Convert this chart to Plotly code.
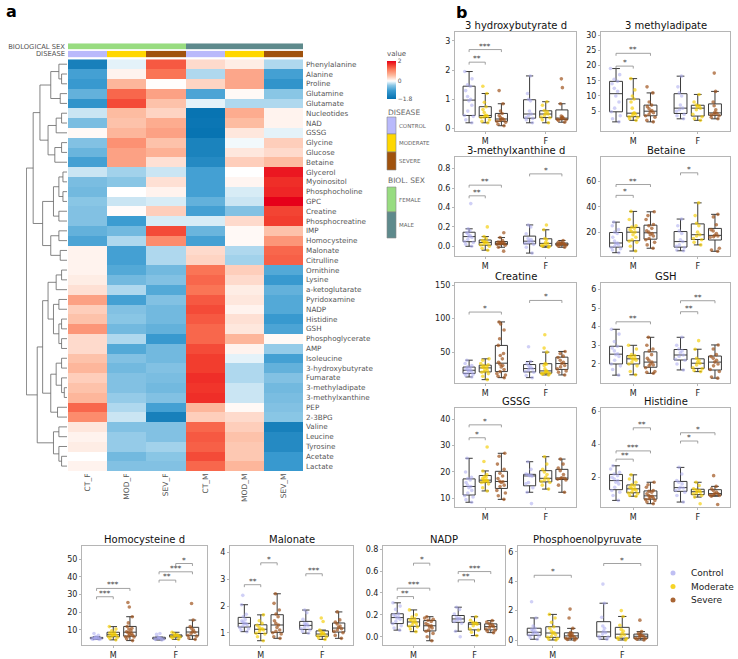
import plotly.graph_objects as go

W, H = 738, 659
FONT = "DejaVu Sans"

# ---------------- heatmap data ----------------
METABOLITES = ["Phenylalanine", "Alanine", "Proline", "Glutamine", "Glutamate", "Nucleotides", "NAD", "GSSG",
               "Glycine", "Glucose", "Betaine", "Glycerol", "Myoinositol", "Phosphocholine", "GPC", "Creatine",
               "Phosphocreatine", "IMP", "Homocysteine", "Malonate", "Citrulline", "Ornithine", "Lysine",
               "a-ketoglutarate", "Pyridoxamine", "NADP", "Histidine", "GSH", "Phosphoglycerate", "AMP",
               "Isoleucine", "3-hydroxybutyrate", "Fumarate", "3-methyladipate", "3-methylxanthine", "PEP",
               "2-3BPG", "Valine", "Leucine", "Tyrosine", "Acetate", "Lactate"]
COLUMNS = ["CT_F", "MOD_F", "SEV_F", "CT_M", "MOD_M", "SEV_M"]
COL_SEX = [0, 0, 0, 1, 1, 1]          # 0 female, 1 male
COL_DISEASE = [0, 1, 2, 0, 1, 2]      # control, moderate, severe

CT_F = [-1.5, -0.9, -1.0, -0.7, -1.1, -0.2, -0.55, 0.05, -0.5, -0.65, -0.9, -0.2, -0.55, -0.6, -0.45, -0.5, -0.5,
        -0.7, -0.85, 0.1, 0.1, 0.1, 0.15, 0.25, 0.8, 0.4, 0.5, 0.9, 0.3, 0.3, 0.5, 0.6, 0.4, 0.5, 0.6, 1.3, 1.0,
        0.2, 0.1, 0.15, 0.0, 0.1]
MOD_F = [-0.1, 0.1, 0.6, 1.3, 1.5, 0.55, 0.5, 0.6, 0.95, 0.8, 0.8, -0.35, -0.45, 0.0, -0.2, 0.03, -0.95, -0.6,
         -0.3, -0.9, -0.9, -0.8, -0.6, -0.3, -0.9, -0.5, -0.45, -0.6, -0.3, -0.8, -0.5, -0.6, -0.5, -0.5, -0.4,
         -0.3, -0.2, -0.5, -0.4, -0.4, -0.6, -0.5]
SEV_F = [1.4, 1.2, 0.02, 0.8, 0.5, 0.35, 0.7, 0.8, 0.5, 0.65, 0.25, -0.2, 0.25, 0.1, -0.15, 0.4, -0.15, 1.5, 1.0,
         -0.3, -0.3, -0.6, -0.5, -0.8, -0.5, -0.6, -0.6, -0.7, -1.0, -0.6, -0.6, -0.5, -0.55, -0.6, -0.5, -0.9,
         -1.5, -0.5, -0.5, -0.35, -0.45, -0.5]
CT_M = [0.3, -0.3, 0.35, -0.85, -0.1, -1.75, -1.7, -1.75, -1.45, -1.45, -1.3, -0.9, -0.9, -0.9, -0.7, -0.9, -0.15,
        -0.65, -0.9, 0.3, 0.35, 1.2, 1.3, 1.2, 1.4, 1.5, 1.4, 1.3, 1.3, 1.5, 1.6, 1.6, 1.7, 1.65, 1.7, 0.6, 0.4,
        1.3, 1.4, 1.35, 1.5, 1.3]
MOD_M = [0.15, 0.75, 0.75, 0.05, -0.3, 0.7, 0.55, 0.2, -0.05, 0.2, 0.4, 0.0, 0.08, -0.15, -0.2, -0.5, 0.3, 0.05,
         0.05, -0.3, -0.35, 0.4, 0.3, 0.15, 0.2, 0.1, 0.25, 0.2, 0.6, 0.1, -0.1, -0.3, -0.3, -0.2, -0.2, 0.05, 0.3,
         0.4, 0.5, 0.45, 0.45, 0.6]
SEV_M = [-0.3, -0.9, -1.1, -0.45, -0.3, 0.1, 0.1, -0.1, 0.4, 0.3, 0.55, 1.85, 1.7, 1.75, 2.0, 1.55, 1.6, 0.5, 0.9,
         1.3, 1.35, -0.8, -1.0, -0.7, -0.8, -0.8, -1.0, -0.85, 0.05, -0.4, -0.9, -0.7, -0.5, -0.6, -0.55, -0.5,
         -0.45, -1.5, -1.3, -1.3, -1.0, -1.0]

# row dendrogram: [merge height, left, right]; leaves are row indices
DENDRO = [1.5,
          [1.25,
           [1.0, [0.6, [0.3, 0, [0.2, 1, 2]], [0.25, 3, 4]],
                 [0.7, [0.4, [0.2, 5, 6], 7], [0.45, [0.2, 8, 9], 10]]],
           [0.9, [0.5, [0.3, [0.15, 11, 12], [0.15, 13, 14]], [0.3, 15, 16]],
                 [0.6, [0.3, 17, 18], [0.25, 19, 20]]]],
          [1.1,
           [0.9, [0.7, [0.4, [0.2, 21, 22], 23], [0.5, [0.3, 24, 25], [0.3, [0.2, 26, 27], [0.2, 28, 29]]]],
                 [0.6, [0.4, [0.2, 30, 31], [0.2, 32, [0.1, 33, 34]]], [0.35, 35, 36]]],
           [0.5, [0.3, 37, 38], [0.3, 39, [0.2, 40, 41]]]]]

# ---------------- box plot data ----------------
GROUPS = ["Control", "Moderate", "Severe"]
SEXES = ["M", "F"]

HB3_M = [[0.2, 0.3, 0.42, 0.45, 0.6, 0.8, 0.95, 1.0, 1.1, 1.3, 1.45, 1.5, 1.7, 1.95],
         [0.2, 0.25, 0.3, 0.38, 0.4, 0.42, 0.44, 0.46, 0.55, 0.65, 0.75, 0.9, 1.2, 1.45],
         [0.1, 0.15, 0.22, 0.25, 0.28, 0.3, 0.32, 0.34, 0.38, 0.45, 0.52, 0.6, 0.85, 1.3]]
HB3_F = [[0.2, 0.3, 0.35, 0.38, 0.45, 0.5, 0.6, 0.95, 1.0, 1.2, 1.8],
         [0.2, 0.3, 0.37, 0.4, 0.45, 0.5, 0.52, 0.58, 0.62, 0.8, 0.92],
         [0.22, 0.28, 0.3, 0.32, 0.34, 0.35, 0.37, 0.4, 0.43, 0.85, 1.4, 1.7]]
HB3_SIG = [(0, 0, 1, 2.27, "**"), (0, 0, 2, 2.7, "***")]

MAD_M = [[1.5, 2.5, 3.5, 4.8, 6, 8, 10, 11.5, 12.5, 14, 14.8, 15.5, 17, 19],
         [2, 2.5, 3, 3.2, 3.5, 4, 4.2, 4.5, 6, 8, 9, 10, 12, 15.7],
         [1.5, 2, 3, 3.5, 4, 4.5, 4.8, 5.2, 5.8, 6.5, 7, 8, 11, 13]]
MAD_F = [[2.5, 3.5, 4, 5, 5.5, 6, 7, 10, 11, 13, 16.5],
         [2, 2.5, 3.2, 4, 5.5, 6, 6.5, 6.8, 7, 8, 10.5],
         [2.5, 3, 3.5, 3.8, 4, 4.3, 4.6, 5.5, 6.8, 8, 11.5, 17.5]]
MAD_SIG = [(0, 0, 1, 19.8, "*"), (0, 0, 2, 24, "**")]

MXA_M = [[0.0, 0.02, 0.04, 0.05, 0.07, 0.09, 0.1, 0.11, 0.13, 0.14, 0.16, 0.18, 0.44],
         [-0.04, -0.02, 0.0, 0.015, 0.02, 0.03, 0.04, 0.045, 0.05, 0.06, 0.08, 0.1, 0.2],
         [-0.05, -0.01, 0.01, 0.02, 0.025, 0.03, 0.03, 0.035, 0.04, 0.045, 0.06, 0.09, 0.14]]
MXA_F = [[-0.07, -0.01, 0.02, 0.03, 0.04, 0.05, 0.055, 0.07, 0.08, 0.13, 0.2, 0.22],
         [-0.01, 0.0, 0.0, 0.01, 0.02, 0.03, 0.04, 0.07, 0.08, 0.17, 0.22],
         [-0.01, 0.0, 0.01, 0.015, 0.02, 0.02, 0.025, 0.03, 0.035, 0.04, 0.06]]
MXA_SIG = [(0, 0, 1, 0.52, "**"), (0, 0, 2, 0.63, "**"), (1, 0, 2, 0.746, "*")]

BET_M = [[3.9, 6, 7, 8, 9, 10, 11, 11.5, 13, 16, 19, 20, 22, 25, 27.9],
         [5.2, 9, 12, 13, 14, 16, 18, 20, 20.5, 22, 23, 24, 25, 30, 36.3],
         [7.4, 10, 12, 14, 15, 17, 18, 19, 20, 21, 23, 25, 26, 30, 33, 36]]
BET_F = [[5.4, 6, 8, 9, 10, 12.6, 14, 19, 21, 25, 30.3],
         [10, 12, 14, 15, 17, 18, 20, 25, 27, 33, 43],
         [5, 6, 7.4, 16, 16.5, 17, 17.5, 19, 21, 22, 25.8, 32, 34]]
BET_SIG = [(0, 0, 1, 48.9, "*"), (0, 0, 2, 57.4, "**"), (1, 0, 1, 66.6, "*")]

CRE_M = [[13, 15, 17, 18, 19, 20, 22, 23, 24, 25, 27, 28, 30, 33, 38],
         [9, 14, 18, 20, 21, 22, 24, 26, 27, 28, 29, 30, 31, 33, 38, 40],
         [12, 14, 16, 18, 21, 24, 28, 30, 32, 35, 40, 45, 48, 60, 70, 83, 92, 95]]
CRE_F = [[12, 15, 20, 21, 23, 25, 26, 28, 30, 33, 36, 58],
         [16, 17, 18, 18.5, 19, 20, 21, 22, 25, 30, 32, 33, 50, 56, 76],
         [16, 20, 22, 25, 28, 30, 33, 35, 38, 42, 44, 48, 51]]
CRE_SIG = [(0, 0, 2, 109.7, "*"), (1, 0, 2, 127, "*")]

GSH_M = [[1.4, 1.7, 1.9, 2.0, 2.2, 2.4, 2.5, 2.55, 2.7, 2.85, 2.95, 3.2, 3.6, 3.86],
         [1.42, 1.6, 1.9, 2.0, 2.1, 2.2, 2.25, 2.3, 2.35, 2.4, 2.45, 2.5, 2.8, 3.0],
         [1.5, 1.55, 1.6, 1.8, 1.9, 1.95, 2.0, 2.1, 2.2, 2.3, 2.5, 2.7, 2.8, 3.0, 3.43]]
GSH_F = [[1.68, 2.0, 2.2, 2.25, 2.4, 2.48, 2.6, 2.7, 2.8, 3.0, 3.43],
         [1.59, 1.65, 1.75, 1.8, 1.95, 2.04, 2.1, 2.2, 2.3, 2.79, 3.25],
         [1.24, 1.3, 1.6, 1.7, 1.9, 2.0, 2.1, 2.2, 2.3, 2.4, 2.5, 2.8, 3.02]]
GSH_SIG = [(0, 0, 2, 4.26, "**"), (1, 0, 1, 4.8, "**"), (1, 0, 2, 5.39, "**")]

GSSG_M = [[8.5, 9.5, 10.5, 11, 12, 13, 14, 14.5, 15, 16, 17, 17.5, 18, 20, 25.2],
          [12.8, 14, 15.5, 16, 16.2, 16.5, 16.7, 16.8, 17, 17.5, 18, 18.3, 19, 20.4, 24, 29.5],
          [9.6, 11, 12, 13, 14.5, 15, 16, 16.3, 16.5, 17.5, 18.5, 19.5, 21, 23, 26, 27.1]]
GSSG_F = [[8, 12.3, 14, 15.5, 16, 18.4, 18.6, 18.8, 19, 19.2, 21, 23.9],
          [13.5, 15, 16, 16.5, 17, 17.2, 18, 19, 20, 21, 23, 25.8],
          [12.3, 15, 17, 17.3, 17.5, 17.6, 17.8, 19, 20.5, 21.5, 23, 24.9]]
GSSG_SIG = [(0, 0, 1, 33, "*"), (0, 0, 2, 37.9, "*")]

HIS_M = [[0.6, 0.9, 1.1, 1.2, 1.4, 1.6, 1.7, 1.8, 1.9, 2.0, 2.1, 2.2, 2.3, 2.5, 2.7],
         [0.85, 0.9, 1.0, 1.05, 1.1, 1.2, 1.25, 1.3, 1.35, 1.4, 1.5, 1.55, 1.7, 1.9, 2.15],
         [0.4, 0.5, 0.6, 0.65, 0.7, 0.75, 0.8, 0.85, 0.9, 1.0, 1.1, 1.15, 1.2, 1.4, 1.55, 1.7]]
HIS_F = [[0.5, 0.9, 1.1, 1.2, 1.3, 1.35, 1.4, 1.6, 1.7, 1.8, 2.2, 2.6],
         [0.4, 0.8, 0.9, 1.0, 1.05, 1.1, 1.15, 1.2, 1.25, 1.3, 1.5, 1.7],
         [0.35, 0.85, 0.9, 0.92, 0.95, 1.0, 1.02, 1.1, 1.2, 1.3, 1.45, 2.1]]
HIS_SIG = [(0, 0, 1, 3.1, "**"), (0, 0, 2, 3.6, "***"), (0, 1, 2, 5.0, "**"), (1, 0, 1, 4.2, "*"),
           (1, 0, 2, 4.7, "*")]

HCY_M = [[4.6, 4.8, 5.0, 5.1, 5.2, 5.3, 5.3, 5.4, 5.5, 5.6, 5.8, 6.2, 7, 8],
         [4.4, 5.2, 5.9, 6.2, 6.6, 7.0, 7.2, 7.4, 7.8, 8.2, 8.7, 9.5, 10.5, 11.9],
         [4, 5, 6, 6.2, 6.5, 7, 7.5, 8, 8.5, 9, 9.5, 10.5, 11, 12, 14, 17.5, 23, 25.5]]
HCY_F = [[4.3, 4.6, 4.8, 5.0, 5.2, 5.3, 5.4, 5.5, 6.0, 7.5, 8],
         [4.7, 5.5, 6, 6.2, 6.5, 6.6, 7, 7.2, 8, 8.7],
         [4.7, 5.5, 6.5, 7, 8, 8.7, 9, 10, 11, 12, 15.6, 25]]
HCY_SIG = [(0, 0, 1, 28.8, "***"), (0, 0, 2, 33.5, "***"), (1, 0, 1, 38.2, "**"), (1, 0, 2, 42.9, "***"),
           (1, 1, 2, 47.6, "*")]

MAL_M = [[1.04, 1.1, 1.15, 1.2, 1.25, 1.3, 1.35, 1.35, 1.4, 1.45, 1.5, 1.6, 1.69, 2.05, 2.4],
         [0.7, 0.85, 0.95, 0.98, 1.05, 1.1, 1.13, 1.15, 1.2, 1.28, 1.35, 1.45, 1.67],
         [0.79, 0.85, 0.95, 1.0, 1.05, 1.1, 1.2, 1.29, 1.35, 1.45, 1.6, 1.7, 1.85, 2.1, 2.46]]
MAL_F = [[0.98, 1.05, 1.1, 1.15, 1.2, 1.25, 1.3, 1.33, 1.35, 1.5, 1.75, 1.85],
         [0.75, 0.8, 0.85, 0.88, 0.92, 0.94, 0.96, 1.0, 1.04, 1.1, 1.42, 1.55],
         [0.79, 0.9, 1.0, 1.05, 1.1, 1.15, 1.2, 1.25, 1.33, 1.4, 1.48, 1.78]]
MAL_SIG = [(0, 0, 1, 2.8, "**"), (0, 1, 2, 3.62, "*"), (1, 0, 1, 3.21, "***")]

NADP_M = [[0.06, 0.08, 0.1, 0.12, 0.14, 0.16, 0.17, 0.18, 0.19, 0.2, 0.21, 0.25, 0.28, 0.31],
          [0.046, 0.07, 0.09, 0.095, 0.11, 0.12, 0.13, 0.14, 0.15, 0.155, 0.165, 0.18, 0.2, 0.245],
          [-0.037, 0.0, 0.03, 0.05, 0.06, 0.08, 0.09, 0.1, 0.11, 0.12, 0.14, 0.15, 0.16, 0.17, 0.183]]
NADP_F = [[0.0, 0.05, 0.123, 0.14, 0.15, 0.16, 0.165, 0.17, 0.18, 0.208, 0.25, 0.27],
          [0.01, 0.04, 0.06, 0.07, 0.1, 0.115, 0.12, 0.125, 0.13, 0.15, 0.183],
          [0.037, 0.05, 0.06, 0.07, 0.085, 0.092, 0.1, 0.11, 0.12, 0.135, 0.147]]
NADP_SIG = [(0, 0, 1, 0.367, "**"), (0, 0, 2, 0.444, "***"), (0, 1, 2, 0.673, "*"), (1, 0, 1, 0.52, "**"),
            (1, 0, 2, 0.596, "***")]

PEP_M = [[0.05, 0.15, 0.25, 0.32, 0.38, 0.45, 0.5, 0.55, 0.65, 0.72, 0.8, 0.95, 1.5, 2.6],
         [0.0, 0.05, 0.1, 0.18, 0.25, 0.35, 0.45, 0.5, 0.6, 0.8, 0.9, 1.2, 1.5, 1.74],
         [0.0, 0.03, 0.08, 0.11, 0.15, 0.2, 0.25, 0.28, 0.32, 0.38, 0.45, 0.5, 0.79, 1.5, 2.1]]
PEP_F = [[0.05, 0.1, 0.2, 0.25, 0.4, 0.5, 0.6, 0.8, 0.95, 1.54, 2.5, 3.8],
         [0.0, 0.05, 0.1, 0.15, 0.25, 0.34, 0.45, 0.6, 0.72, 1.0, 1.6, 2.0],
         [0.0, 0.05, 0.1, 0.12, 0.18, 0.23, 0.28, 0.32, 0.35, 0.45, 0.57, 1.35]]
PEP_SIG = [(0, 0, 2, 4.4, "*"), (1, 0, 2, 5.2, "*")]

# ---------------- style / layout ----------------
GROUP_COLORS = ["#a9a9ef", "#f5cc00", "#a0541e"]
GROUP_OPACITY = [0.55, 0.65, 0.7]
OFFSETS = [-0.267, 0.0, 0.267]
SEX_COLORS = ["#98dc80", "#5e8a8c"]
DIS_COLORS = ["#b9b9fb", "#ffd700", "#a0520d"]

# (title, M, F, sig, yrange, tickvals, ticktext, x-domain px, y-domain px)
PANELS = [
    ("3 hydroxybutyrate d", HB3_M, HB3_F, HB3_SIG, [-0.08, 3.3], [0, 1, 2, 3], None, (455, 576), (32, 131)),
    ("3 methyladipate", MAD_M, MAD_F, MAD_SIG, [-1.5, 31], [5, 10, 15, 20, 25, 30], None, (601, 730), (32, 131)),
    ("3-methylxanthine d", MXA_M, MXA_F, MXA_SIG, [-0.1, 0.92], [0, 0.2, 0.4, 0.6, 0.8],
     ["0.0", "0.2", "0.4", "0.6", "0.8"], (455, 576), (157, 256)),
    ("Betaine", BET_M, BET_F, BET_SIG, [1.3, 79], [20, 40, 60], None, (601, 730), (157, 256)),
    ("Creatine", CRE_M, CRE_F, CRE_SIG, [4, 153], [50, 100, 150], None, (455, 576), (283, 383)),
    ("GSH", GSH_M, GSH_F, GSH_SIG, [0.98, 6.34], [2, 3, 4, 5, 6], None, (601, 730), (283, 383)),
    ("GSSG", GSSG_M, GSSG_F, GSSG_SIG, [6.7, 44.3], [10, 20, 30, 40], None, (455, 576), (408, 507)),
    ("Histidine", HIS_M, HIS_F, HIS_SIG, [0.2, 6.2], [2, 4, 6], None, (601, 730), (408, 507)),
    ("Homocysteine d", HCY_M, HCY_F, HCY_SIG, [1.5, 57.5], [10, 20, 30, 40, 50], None, (82, 207), (546, 645)),
    ("Malonate", MAL_M, MAL_F, MAL_SIG, [0.54, 4.25], [1, 2, 3, 4], None, (230, 353), (546, 645)),
    ("NADP", NADP_M, NADP_F, NADP_SIG, [-0.076, 0.83], [0, 0.2, 0.4, 0.6, 0.8],
     ["0.0", "0.2", "0.4", "0.6", "0.8"], (383, 505), (546, 645)),
    ("Phosphoenolpyruvate", PEP_M, PEP_F, PEP_SIG, [-0.34, 6.39], [0, 2, 4, 6], None, (518, 657), (546, 645)),
]


def fx(p):
    return p / W


def fy(p):
    return 1 - p / H


fig = go.Figure()
layout = {}
shapes = []
annotations = []

# ---- heatmap ----
HM_X = (68, 303)
HM_Y = (59.3, 471)
z = [[CT_F[i], MOD_F[i], SEV_F[i], CT_M[i], MOD_M[i], SEV_M[i]] for i in range(len(METABOLITES))]
cscale = [[0.0, "#0571b0"], [0.22, "#3a9bd0"], [0.36, "#8cc7e6"], [0.4737, "#ffffff"],
          [0.62, "#fdbba0"], [0.78, "#fb7a5a"], [0.9, "#f23a2c"], [1.0, "#e6001a"]]
fig.add_trace(go.Heatmap(
    z=z, x=COLUMNS, y=METABOLITES, colorscale=cscale, zmin=-1.8, zmax=2.0, xaxis="x", yaxis="y",
    colorbar=dict(x=fx(387), xanchor="left", y=fy(48), yanchor="top", len=51 / H, lenmode="fraction",
                  thickness=9, tickvals=[-1.8, 0, 2], ticktext=["−1.8", "0", "2"], ticks="",
                  tickfont=dict(size=6, family=FONT, color="#555"), outlinewidth=0, xpad=0, ypad=0,
                  title=dict(text="value", side="top", font=dict(size=7, family=FONT, color="#555"))),
    hoverinfo="skip"))
layout["xaxis"] = dict(domain=[fx(HM_X[0]), fx(HM_X[1])], anchor="y", tickangle=-90, showgrid=False,
                       ticks="", tickfont=dict(size=7.5, family=FONT, color="#555"), showline=False,
                       automargin=False)
layout["yaxis"] = dict(domain=[fy(HM_Y[1]), fy(HM_Y[0])], anchor="x", autorange="reversed", side="right",
                       showgrid=False, ticks="", tickfont=dict(size=7.2, family=FONT, color="#555"),
                       ticklabelstandoff=2, automargin=False)

# annotation bars
fig.add_trace(go.Heatmap(z=[COL_SEX], x=COLUMNS, y=["BIOLOGICAL SEX"], zmin=0, zmax=1, showscale=False,
                         colorscale=[[0, SEX_COLORS[0]], [0.5, SEX_COLORS[0]], [0.5, SEX_COLORS[1]],
                                     [1, SEX_COLORS[1]]], xaxis="x", yaxis="y2", hoverinfo="skip"))
fig.add_trace(go.Heatmap(z=[COL_DISEASE], x=COLUMNS, y=["DISEASE"], zmin=0, zmax=2, showscale=False,
                         colorscale=[[0, DIS_COLORS[0]], [0.333, DIS_COLORS[0]], [0.333, DIS_COLORS[1]],
                                     [0.667, DIS_COLORS[1]], [0.667, DIS_COLORS[2]], [1, DIS_COLORS[2]]],
                         xaxis="x", yaxis="y3", hoverinfo="skip"))
layout["yaxis2"] = dict(domain=[fy(49.5), fy(43.3)], anchor="x", showgrid=False, ticks="",
                        tickfont=dict(size=6.8, family=FONT, color="#555"), ticklabelstandoff=2,
                        automargin=False)
layout["yaxis3"] = dict(domain=[fy(57.3), fy(50.7)], anchor="x", showgrid=False, ticks="",
                        tickfont=dict(size=6.8, family=FONT, color="#555"), ticklabelstandoff=2,
                        automargin=False)

# ---- dendrogram ----
dx, dy = [], []


def walk(node):
    if isinstance(node, int):
        return float(node), 0.0
    h, left, right = node
    yl, hl = walk(left)
    yr, hr = walk(right)
    dx.extend([hl, h, h, hr, None])
    dy.extend([yl, yl, yr, yr, None])
    return (yl + yr) / 2, h


walk(DENDRO)
fig.add_trace(go.Scatter(x=dx, y=dy, mode="lines", line=dict(color="#666", width=0.8), xaxis="x2", yaxis="y4",
                         showlegend=False, hoverinfo="skip"))
layout["xaxis2"] = dict(domain=[fx(26), fx(67)], anchor="y4", range=[DENDRO[0] * 1.01, 0], visible=False,
                        automargin=False)
layout["yaxis4"] = dict(domain=[fy(HM_Y[1]), fy(HM_Y[0])], anchor="x2",
                        range=[len(METABOLITES) - 0.5, -0.5], visible=False, automargin=False)


# ---- heatmap legends (DISEASE / BIOL. SEX) ----
def block(y0, y1, color):
    shapes.append(dict(type="rect", xref="paper", yref="paper", x0=fx(387), x1=fx(396), y0=fy(y1), y1=fy(y0),
                       fillcolor=color, line=dict(color="#888", width=0.6)))


def small_text(x, y, text, size=5.5, anchor="left", color="#666"):
    annotations.append(dict(x=fx(x), y=fy(y), xref="paper", yref="paper", text=text, showarrow=False,
                            xanchor=anchor, yanchor="middle", font=dict(size=size, family=FONT, color=color)))


small_text(386, 112, "DISEASE", 7.5)
for i, (lab, y0, y1) in enumerate([("CONTROL", 117, 134), ("MODERATE", 134, 152), ("SEVERE", 152, 170)]):
    block(y0, y1, DIS_COLORS[i])
    small_text(397, (y0 + y1) / 2, lab)
small_text(386, 181, "BIOL. SEX", 7.5)
for i, (lab, y0, y1) in enumerate([("FEMALE", 187, 212), ("MALE", 212, 238)]):
    block(y0, y1, SEX_COLORS[i])
    small_text(397, (y0 + y1) / 2, lab)

# ---- panel letters ----
for lab, x, y in [("a", 11, 12), ("b", 461, 13)]:
    annotations.append(dict(x=fx(x), y=fy(y), xref="paper", yref="paper", text="<b>%s</b>" % lab,
                            showarrow=False, xanchor="center", yanchor="middle",
                            font=dict(size=16, family=FONT, color="black")))

# ---- box panels ----
for pi, (title, mdat, fdat, sig, yr, tv, tt, xd, yd) in enumerate(PANELS):
    xn = "x%d" % (pi + 3)
    yn = "y%d" % (pi + 5)
    for si, sdat in enumerate([mdat, fdat]):
        for gi, vals in enumerate(sdat):
            fig.add_trace(go.Box(
                y=vals, x0=si + OFFSETS[gi], width=0.2, name=GROUPS[gi], boxpoints="all", jitter=0.9,
                pointpos=0, marker=dict(color=GROUP_COLORS[gi], size=3.6, opacity=GROUP_OPACITY[gi]),
                line=dict(color="#3a3a3a", width=1), fillcolor="rgba(0,0,0,0)", whiskerwidth=0.6,
                xaxis=xn, yaxis=yn, showlegend=False, hoverinfo="skip"))
    tick = 0.025 * (yr[1] - yr[0])
    for (si, g1, g2, yv, lab) in sig:
        x1 = si + OFFSETS[g1]
        x2 = si + OFFSETS[g2]
        shapes.append(dict(type="path", xref=xn, yref=yn,
                           path="M %f,%f L %f,%f L %f,%f L %f,%f" % (x1, yv - tick, x1, yv, x2, yv, x2, yv - tick),
                           line=dict(color="#8a8a8a", width=0.8)))
        annotations.append(dict(x=(x1 + x2) / 2, y=yv, xref=xn, yref=yn, text=lab, showarrow=False,
                                xanchor="center", yanchor="bottom", yshift=-3,
                                font=dict(size=7.5, family=FONT, color="#444")))
    layout["xaxis%d" % (pi + 3)] = dict(domain=[fx(xd[0]), fx(xd[1])], anchor=yn, range=[-0.5, 1.5],
                                        tickvals=[0, 1], ticktext=SEXES, showgrid=False, zeroline=False,
                                        showline=True, mirror=True, linecolor="#b5b5b5", linewidth=1,
                                        ticks="outside", ticklen=2, tickcolor="#b5b5b5", automargin=False,
                                        tickfont=dict(size=8, family=FONT, color="#222"))
    ya = dict(domain=[fy(yd[1]), fy(yd[0])], anchor=xn, range=yr, tickvals=tv, showgrid=False, zeroline=False,
              showline=True, mirror=True, linecolor="#b5b5b5", linewidth=1, ticks="outside", ticklen=2,
              tickcolor="#b5b5b5", tickfont=dict(size=8, family=FONT, color="#222"), automargin=False)
    if tt:
        ya["ticktext"] = tt
    layout["yaxis%d" % (pi + 5)] = ya
    annotations.append(dict(x=fx((xd[0] + xd[1]) / 2), y=fy(yd[0]), xref="paper", yref="paper", text=title,
                            showarrow=False, xanchor="center", yanchor="bottom", yshift=-1,
                            font=dict(size=10, family=FONT, color="#111")))

# legend for the disease groups (dots + labels)
for gi, g in enumerate(GROUPS):
    ly = 573 + gi * 13.5
    shapes.append(dict(type="circle", xref="paper", yref="paper", x0=fx(670.5), x1=fx(675.5),
                       y0=fy(ly + 2.5), y1=fy(ly - 2.5), fillcolor=GROUP_COLORS[gi],
                       opacity=min(1, GROUP_OPACITY[gi] + 0.2), line=dict(width=0)))
    small_text(689, ly, g, 9, color="#222")

fig.update_layout(
    width=W, height=H, margin=dict(l=0, r=0, t=0, b=0, autoexpand=False), paper_bgcolor="white",
    plot_bgcolor="white", boxmode="overlay", shapes=shapes, annotations=annotations, showlegend=False,
    font=dict(family=FONT),
    **layout)

fig.write_html("out.html")
